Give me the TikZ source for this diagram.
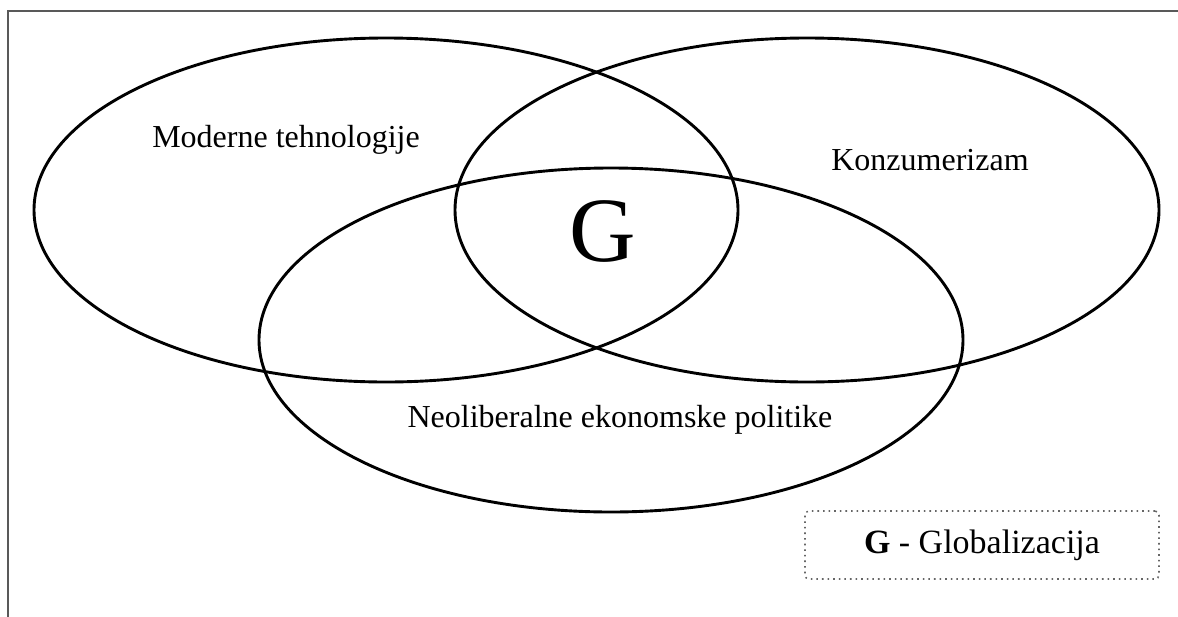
\documentclass[tikz,border=0pt]{standalone}
\usepackage{fontspec}
\setmainfont{Liberation Serif}
\usetikzlibrary{shapes.geometric}

\begin{document}
\begin{tikzpicture}[x=0.5pt, y=-0.5pt,
	set/.style={ellipse, draw, line width=1.45pt, inner sep=0pt, minimum width=352pt, minimum height=172pt},
	label/.style={font=\fontsize{16}{19}\selectfont},
	legendbox/.style={draw=black!60, dotted, line width=0.8pt, rounded corners=2pt, minimum width=177pt, minimum height=34pt, font=\fontsize{17}{20}\selectfont}]
	\clip (0,0) rectangle (1178,616);
	\draw[black!65, line width=1.4pt] (8,11) rectangle (1200,640);

	\node (tech) at (386, 210) [set] {};
	\node (kons) at (807, 210) [set] {};
	\node (neo) at (611, 340) [set] {};

	\node (techlabel) at (286, 140) [label] {Moderne tehnologije};
	\node (konslabel) at (930, 160) [label] {Konzumerizam};
	\node (neolabel) at (620, 420) [label] {Neoliberalne ekonomske politike};
	\node (g) at (603, 231) [font=\fontsize{46}{50}\selectfont] {G};

	\node (legend) at (982, 545) [legendbox] {\textbf{G} - Globalizacija};
\end{tikzpicture}
\end{document}
